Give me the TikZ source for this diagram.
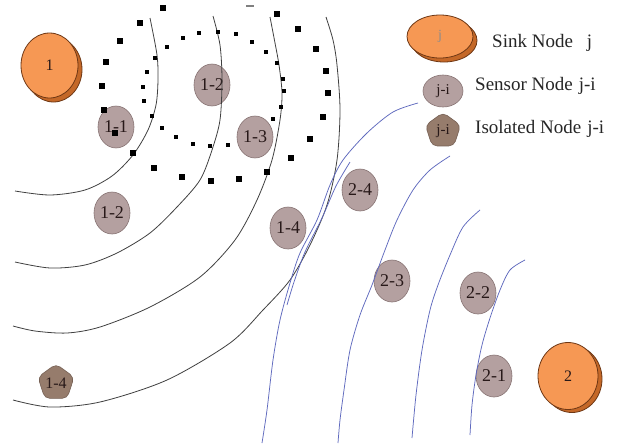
\documentclass[tikz,border=0pt]{standalone}
\usepackage{fontspec}
\setmainfont{Liberation Serif}
\usetikzlibrary{shapes.geometric}
\definecolor{sinkfill}{RGB}{246,152,84}
\definecolor{sinkshade}{RGB}{196,104,40}
\definecolor{sinkline}{RGB}{110,55,20}
\definecolor{sensfill}{RGB}{180,160,160}
\definecolor{sensline}{RGB}{135,115,115}
\definecolor{isofill}{RGB}{150,124,108}
\definecolor{isoline}{RGB}{118,96,84}
\definecolor{bluearc}{RGB}{95,105,190}
\definecolor{labtext}{RGB}{40,25,25}
\begin{document}
\begin{tikzpicture}[x=1pt,y=-1pt,
  sinkbody/.style={ellipse, draw=sinkline, line width=0.8pt, fill=sinkfill, inner sep=0pt, text=labtext, font=\fontsize{16}{16}\selectfont},
  sinkshadow/.style={ellipse, draw=sinkline, line width=0.8pt, fill=sinkshade, inner sep=0pt},
  sensor/.style={ellipse, draw=sensline, line width=0.6pt, fill=sensfill, inner sep=0pt, minimum width=36pt, minimum height=42pt, text=labtext, font=\fontsize{18}{18}\selectfont},
  isolated/.style={regular polygon, regular polygon sides=5, draw=isoline, line width=0.6pt, fill=isofill, inner sep=0pt, minimum size=38pt, rounded corners=5pt, text=labtext, font=\fontsize{16}{16}\selectfont},
  legendtext/.style={anchor=base west, inner sep=0pt, text=black!85, font=\fontsize{19}{19}\selectfont},
  blackarc/.style={draw=black!75, line width=0.8pt},
  bluecurve/.style={draw=bluearc, line width=0.75pt},
]
\fill[white] (0,0) rectangle (634,445);
\useasboundingbox (0,0) rectangle (634,445);

% sink nodes
\node[sinkshadow, minimum width=57pt, minimum height=65pt] (s1sh) at (53.5,69.5) {};
\node[sinkbody, minimum width=57pt, minimum height=65pt] (s1) at (49.5,65.5) {1};
\node[sinkshadow, minimum width=60pt, minimum height=67pt] (s2sh) at (572,379) {};
\node[sinkbody, minimum width=60pt, minimum height=67pt] (s2) at (568,376) {2};

% sensor nodes
\node[sensor] (n11) at (116,127) {1-1};
\node[sensor] (n12a) at (212,85) {1-2};
\node[sensor] (n13) at (255,137) {1-3};
\node[sensor] (n12b) at (112,213) {1-2};
\node[sensor] (n14) at (288,228) {1-4};
\node[sensor] (n24) at (360,190) {2-4};
\node[sensor] (n23) at (392,281) {2-3};
\node[sensor] (n22) at (478,293) {2-2};
\node[sensor] (n21) at (494,376) {2-1};
\node[isolated, minimum size=38pt] (i14) at (56,383) {1-4};

% legend
\node[sinkshadow, minimum width=66pt, minimum height=43pt] (lsinksh) at (444,40.5) {};
\node[sinkbody, minimum width=66pt, minimum height=43pt, font=\fontsize{14}{14}\selectfont, text=black!45] (lsink) at (440,36.5) {j};
\node[legendtext] (tsink) at (492,47) {Sink Node\hspace{14pt}j};
\node[sensor, minimum width=40pt, minimum height=32pt, font=\fontsize{15}{15}\selectfont] (lsens) at (443,91) {j-i};
\node[legendtext] (tsens) at (475,90) {Sensor Node\hspace{6pt}j-i};
\node[isolated, minimum size=37pt, font=\fontsize{15}{15}\selectfont] (liso) at (443,131) {j-i};
\node[legendtext] (tiso) at (475,133) {Isolated Node\hspace{6pt}j-i};

% black arcs around sink 1
\draw[blackarc] plot[smooth] coordinates {(15,191) (50,195) (85,190) (112,176) (133,155) (148,130) (156,105) (158,80) (157,55) (150,18)};
\draw[blackarc] plot[smooth] coordinates {(15,262) (50,268) (85,265) (117,253) (150,233) (177,207) (200,180) (212,150) (220,120) (222,80) (220,45) (213,16)};
\draw[blackarc] plot[smooth] coordinates {(13,326) (35,331) (67,333) (100,327) (150,307) (200,277) (235,240) (257,200) (272,160) (280,120) (282,93) (279,65) (275,43) (270,17)};
\draw[blackarc] plot[smooth] coordinates {(13,400) (50,407) (100,402) (167,380) (230,343) (263,310) (290,280) (310,245) (327,205) (337,160) (340,110) (337,65) (333,40) (326,17)};

% blue arcs around sink 2
\draw[bluecurve] plot[smooth] coordinates {(418,103) (393,112) (367,133) (343,160) (330,185) (317,220) (300,253) (290,283) (280,320) (273,360) (267,410) (262,443)};
\draw[bluecurve] plot[smooth] coordinates {(350,162) (336,186) (322,218) (305,252) (294,282) (287,305)};
\draw[bluecurve] plot[smooth] coordinates {(450,156) (430,170) (413,190) (397,220) (385,250) (372,285) (360,315) (350,350) (344,390) (340,420) (338,443)};
\draw[bluecurve] plot[smooth] coordinates {(480,210) (463,227) (450,255) (438,285) (430,310) (422,350) (416,395) (412,438)};
\draw[bluecurve] plot[smooth] coordinates {(525,260) (510,270) (500,290) (490,318) (482,345) (476,375) (472,405) (470,435)};

% outer dotted ring (squares)
\foreach \x/\y in {163/8, 140/23, 120/41, 106/62, 102/86, 104/110, 115/133, 133/153, 154/168, 182/177, 211/181, 239/179, 267/172, 291/158, 310/139, 323/117, 328/93, 326/71, 316/49, 298/29, 277/14}
  \fill[black] (\x-2.7,\y-2.7) rectangle ++(5.4,5.4);
\fill[black!50] (246,5) rectangle ++(8,1.5);

% inner dotted ring (small dots)
\foreach \x/\y in {144/101, 152/116, 162/128, 176/137, 193/144, 210/146, 228/145, 273/119, 281/107, 284/91, 283/79, 277/63, 266/52, 252/42, 236/34, 218/32, 199/33, 183/38, 167/47, 155/58, 147/72, 143/87}
  \fill[black] (\x-1.8,\y-1.8) rectangle ++(3.6,3.6);
\end{tikzpicture}
\end{document}
